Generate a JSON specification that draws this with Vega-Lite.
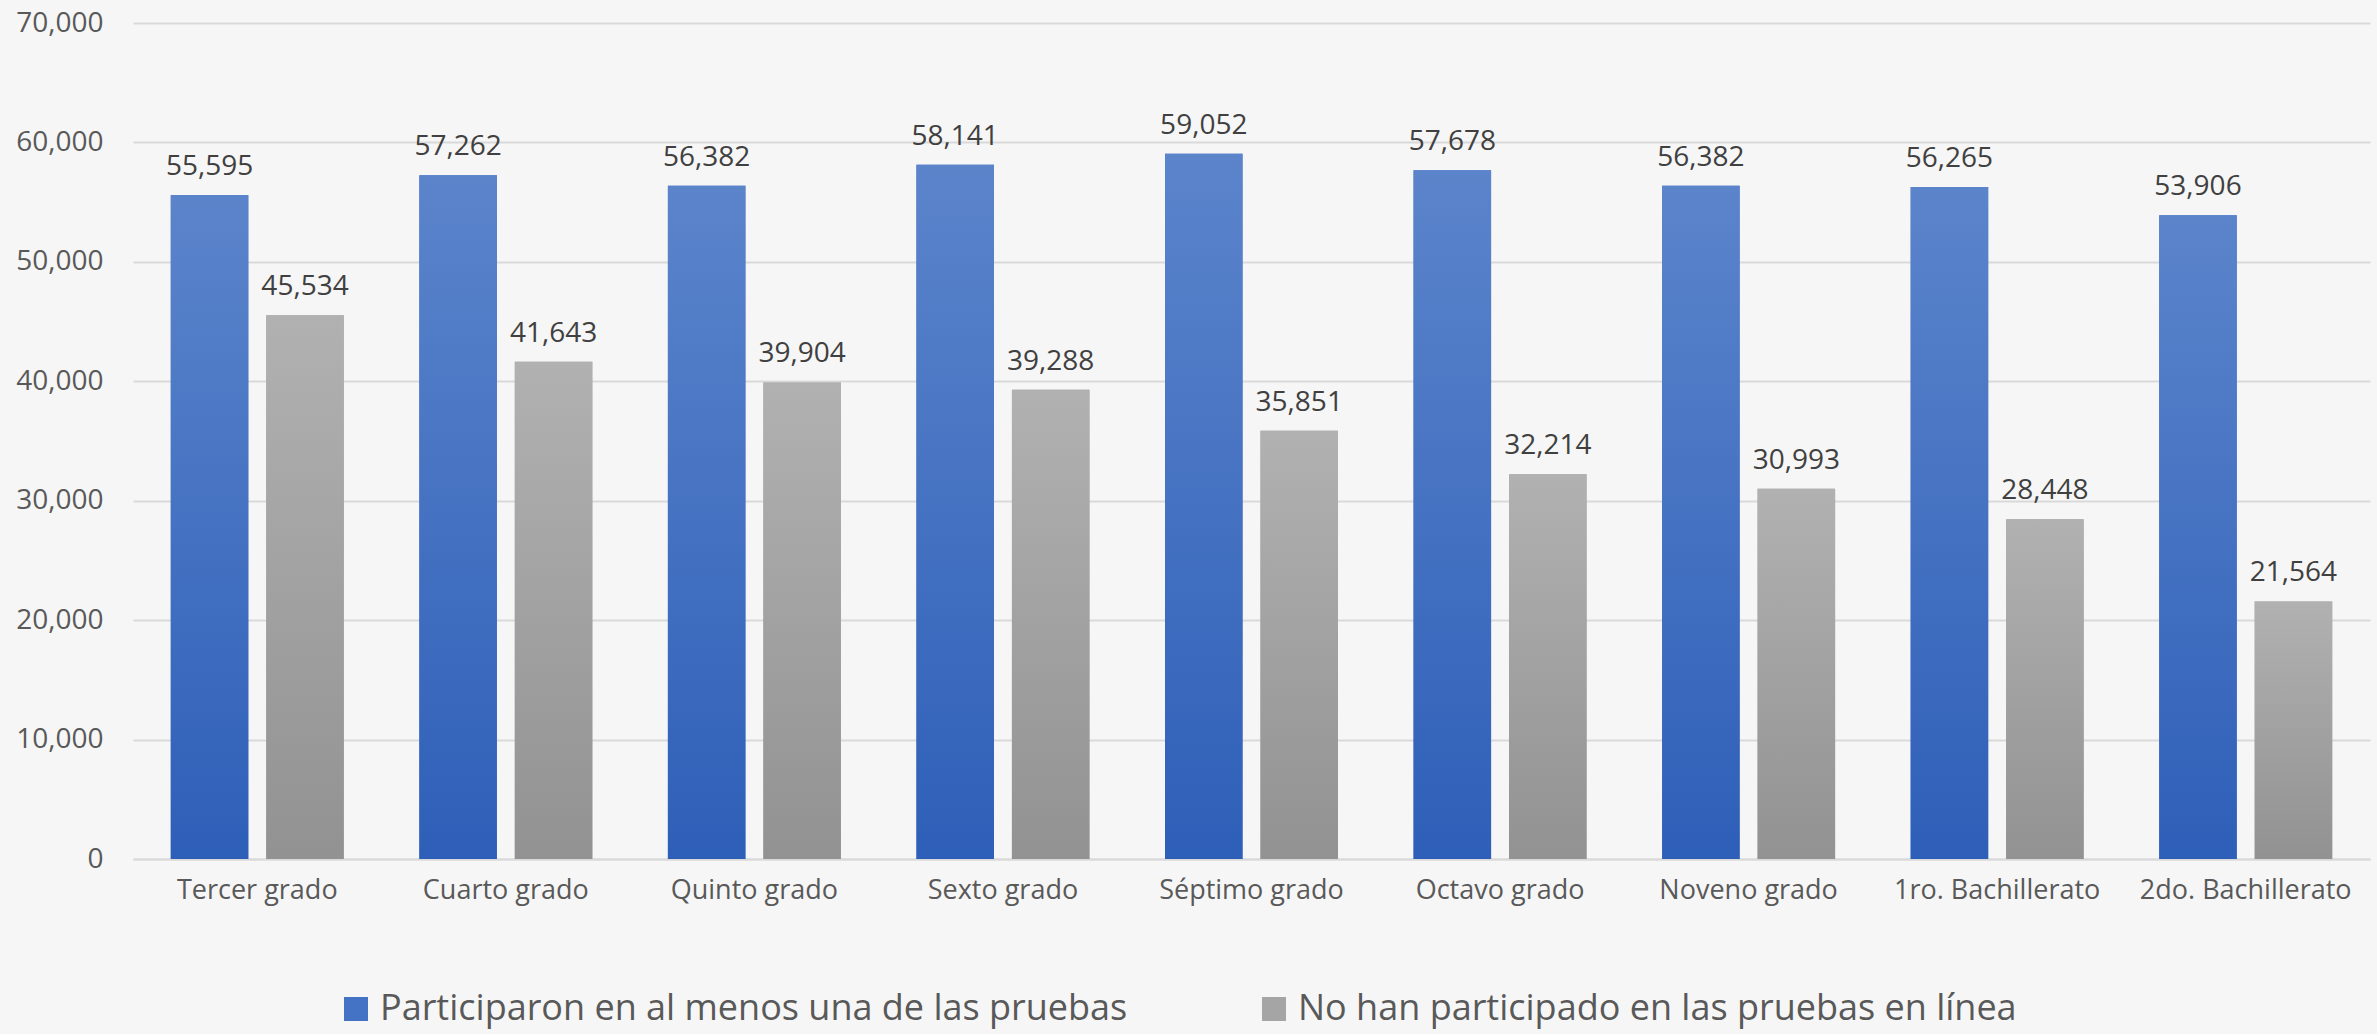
{
"$schema": "https://vega.github.io/schema/vega-lite/v6.json",
"width": 2237, "height": 836,
"autosize": {"type": "none"},
"padding": {"left": 133, "top": 23, "right": 7, "bottom": 175},
"background": "#f6f6f6",
"config": {"font": "Open Sans", "view": {"stroke": null}},
"data": {"values": [
{"grado": "Tercer grado", "serie": "Participaron en al menos una de las pruebas", "valor": 55595},
{"grado": "Tercer grado", "serie": "No han participado en las pruebas en línea", "valor": 45534},
{"grado": "Cuarto grado", "serie": "Participaron en al menos una de las pruebas", "valor": 57262},
{"grado": "Cuarto grado", "serie": "No han participado en las pruebas en línea", "valor": 41643},
{"grado": "Quinto grado", "serie": "Participaron en al menos una de las pruebas", "valor": 56382},
{"grado": "Quinto grado", "serie": "No han participado en las pruebas en línea", "valor": 39904},
{"grado": "Sexto grado", "serie": "Participaron en al menos una de las pruebas", "valor": 58141},
{"grado": "Sexto grado", "serie": "No han participado en las pruebas en línea", "valor": 39288},
{"grado": "Séptimo grado", "serie": "Participaron en al menos una de las pruebas", "valor": 59052},
{"grado": "Séptimo grado", "serie": "No han participado en las pruebas en línea", "valor": 35851},
{"grado": "Octavo grado", "serie": "Participaron en al menos una de las pruebas", "valor": 57678},
{"grado": "Octavo grado", "serie": "No han participado en las pruebas en línea", "valor": 32214},
{"grado": "Noveno grado", "serie": "Participaron en al menos una de las pruebas", "valor": 56382},
{"grado": "Noveno grado", "serie": "No han participado en las pruebas en línea", "valor": 30993},
{"grado": "1ro. Bachillerato", "serie": "Participaron en al menos una de las pruebas", "valor": 56265},
{"grado": "1ro. Bachillerato", "serie": "No han participado en las pruebas en línea", "valor": 28448},
{"grado": "2do. Bachillerato", "serie": "Participaron en al menos una de las pruebas", "valor": 53906},
{"grado": "2do. Bachillerato", "serie": "No han participado en las pruebas en línea", "valor": 21564}
]},
"encoding": {
  "x": {"field": "grado", "type": "nominal", "sort": null,
        "scale": {"paddingInner": 0.304, "paddingOuter": 0.152},
        "axis": {"title": null, "labelAngle": 0, "labelFontSize": 27, "labelLimit": 0, "labelColor": "#595959", "domainColor": "#d9d9d9", "domainWidth": 2, "ticks": false, "labelPadding": 18}},
  "xOffset": {"field": "serie", "type": "nominal", "sort": null,
        "scale": {"domain": ["Participaron en al menos una de las pruebas", "No han participado en las pruebas en línea"], "paddingInner": 0.188, "paddingOuter": 0}},
  "y": {"field": "valor", "type": "quantitative",
        "scale": {"domain": [0, 70000]},
        "axis": {"title": null, "values": [0, 10000, 20000, 30000, 40000, 50000, 60000, 70000], "format": ",.0f", "labelFontSize": 28, "labelColor": "#595959", "gridColor": "#d9d9d9", "gridWidth": 2, "domain": false, "ticks": false, "labelPadding": 30}}
},
"layer": [
  {"mark": {"type": "bar"},
   "encoding": {"color": {"field": "serie", "type": "nominal",
      "scale": {"domain": ["Participaron en al menos una de las pruebas", "No han participado en las pruebas en línea"], "range": ["#4472c4", "#a5a5a5"]},
      "legend": {"title": null, "orient": "none", "direction": "horizontal", "legendX": 205, "legendY": 968, "symbolType": "square", "symbolSize": 576, "symbolStrokeWidth": 0, "labelFontSize": 36, "labelLimit": 0, "labelColor": "#595959", "columnPadding": 128, "labelOffset": 6}}}},
  {"transform": [{"filter": "datum.serie == 'Participaron en al menos una de las pruebas'"}],
   "mark": {"type": "bar", "color": {"gradient": "linear", "x1": 0, "y1": 0, "x2": 0, "y2": 1, "stops": [{"offset": 0, "color": "#5b84cb"}, {"offset": 1, "color": "#2e5fb8"}]}}},
  {"transform": [{"filter": "datum.serie == 'No han participado en las pruebas en línea'"}],
   "mark": {"type": "bar", "color": {"gradient": "linear", "x1": 0, "y1": 0, "x2": 0, "y2": 1, "stops": [{"offset": 0, "color": "#b1b1b1"}, {"offset": 1, "color": "#929292"}]}}},
  {"mark": {"type": "text", "baseline": "bottom", "dy": -14, "fontSize": 28, "color": "#404040"},
   "encoding": {"text": {"field": "valor", "type": "quantitative", "format": ",.0f"}}}
]
}
